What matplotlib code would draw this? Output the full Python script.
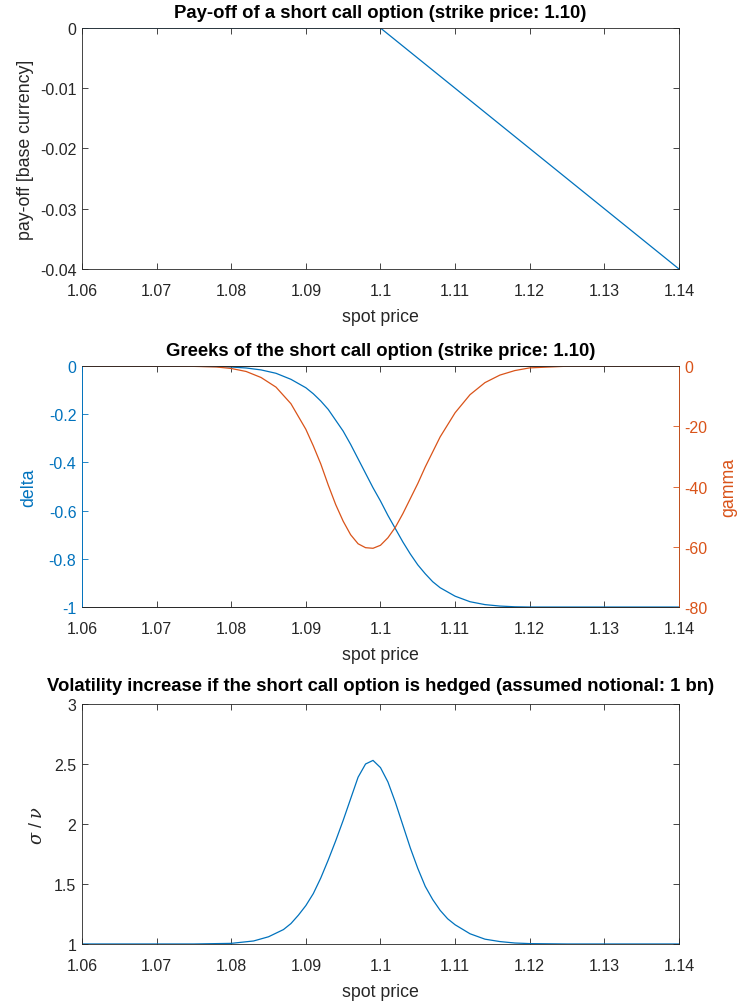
import matplotlib
matplotlib.use("Agg")
import matplotlib.pyplot as plt

plt.rcParams['font.family'] = ['Liberation Sans', 'DejaVu Sans']
plt.rcParams['mathtext.fontset'] = 'dejavuserif'

BLUE = "#0072BD"
ORANGE = "#D95319"
AXC = "#262626"

# ======================================
# Data
# ======================================

payoff_spot = [1.06, 1.10, 1.14]
payoff_val = [0.0, 0.0, -0.04]

greek_spot = [1.060, 1.070, 1.075, 1.078, 1.080, 1.082, 1.084, 1.086, 1.088,
              1.090, 1.091, 1.092, 1.093, 1.094, 1.095, 1.096, 1.097, 1.098,
              1.099, 1.100, 1.101, 1.102, 1.103, 1.104, 1.105, 1.106, 1.107,
              1.108, 1.110, 1.112, 1.114, 1.116, 1.118, 1.120, 1.125, 1.140]
delta = [0.0, 0.0, -0.001, -0.002, -0.004, -0.008, -0.016, -0.030, -0.055,
         -0.090, -0.115, -0.145, -0.180, -0.225, -0.270, -0.325, -0.385, -0.445,
         -0.505, -0.560, -0.620, -0.675, -0.730, -0.780, -0.825, -0.862, -0.895,
         -0.920, -0.955, -0.978, -0.990, -0.996, -0.999, -1.0, -1.0, -1.0]
gamma = [0.0, 0.0, -0.1, -0.3, -0.8, -1.8, -3.8, -7.0, -12.5,
         -21.0, -26.5, -32.5, -39.5, -46.0, -51.5, -56.0, -59.0, -60.3,
         -60.5, -59.5, -57.0, -53.5, -49.0, -44.0, -39.0, -33.5, -28.5,
         -23.5, -15.5, -9.5, -5.5, -3.0, -1.5, -0.6, -0.05, 0.0]

vol_spot = [1.060, 1.075, 1.080, 1.083, 1.085, 1.087, 1.088, 1.089, 1.090,
            1.091, 1.092, 1.093, 1.094, 1.095, 1.096, 1.097, 1.098, 1.099,
            1.100, 1.101, 1.102, 1.103, 1.104, 1.105, 1.106, 1.107, 1.108,
            1.109, 1.110, 1.112, 1.114, 1.116, 1.118, 1.120, 1.125, 1.140]
vol = [1.0, 1.0, 1.005, 1.025, 1.06, 1.12, 1.17, 1.24, 1.32,
       1.42, 1.55, 1.70, 1.86, 2.03, 2.21, 2.39, 2.50, 2.53,
       2.47, 2.35, 2.18, 1.99, 1.80, 1.63, 1.48, 1.37, 1.28,
       1.21, 1.16, 1.085, 1.04, 1.02, 1.008, 1.003, 1.0, 1.0]

xticks = [1.06, 1.07, 1.08, 1.09, 1.10, 1.11, 1.12, 1.13, 1.14]
xticklabels = ["1.06", "1.07", "1.08", "1.09", "1.1", "1.11", "1.12", "1.13", "1.14"]

TICK_FS = 11.5
LABEL_FS = 12.8
TITLE_FS = 13.3


def style_axes(ax):
    ax.set_xlim(1.06, 1.14)
    ax.set_xticks(xticks)
    ax.set_xticklabels(xticklabels)
    ax.tick_params(direction="in", length=4, width=0.6, labelsize=TICK_FS,
                   colors=AXC, top=True, right=True)
    ax.tick_params(axis="x", pad=10)
    ax.tick_params(axis="y", pad=4)
    for s in ax.spines.values():
        s.set_linewidth(0.6)
        s.set_color(AXC)
    ax.set_xlabel("spot price", fontsize=LABEL_FS, color=AXC, labelpad=7)


fig = plt.figure(figsize=(7.38, 10.04), dpi=100)

# ======================================
# Pay-off
# ======================================

ax1 = fig.add_axes([0.1111, 0.7311, 0.8089, 0.240])
ax1.plot(payoff_spot, payoff_val, color=BLUE, linewidth=0.9)
style_axes(ax1)
ax1.set_ylim(-0.04, 0)
ax1.set_yticks([-0.04, -0.03, -0.02, -0.01, 0])
ax1.set_yticklabels(["-0.04", "-0.03", "-0.02", "-0.01", "0"])
ax1.set_ylabel("pay-off [base currency]", fontsize=LABEL_FS, color=AXC, labelpad=4)
ax1.set_title("Pay-off of a short call option (strike price: 1.10)",
              fontsize=TITLE_FS, fontweight="bold", pad=8)

# ======================================
# Greeks
# ======================================

ax2 = fig.add_axes([0.1111, 0.3944, 0.8089, 0.240])
ax2.plot(greek_spot, delta, color=BLUE, linewidth=0.9)
style_axes(ax2)
ax2.tick_params(right=False)
ax2.set_ylim(-1, 0)
ax2.set_yticks([-1, -0.8, -0.6, -0.4, -0.2, 0])
ax2.set_yticklabels(["-1", "-0.8", "-0.6", "-0.4", "-0.2", "0"])
ax2.tick_params(axis="y", colors=BLUE)
ax2.spines["left"].set_color(BLUE)
ax2.set_ylabel("delta", fontsize=LABEL_FS, color=BLUE, labelpad=8)
ax2.set_title("Greeks of the short call option (strike price: 1.10)",
              fontsize=TITLE_FS, fontweight="bold", pad=8)

ax2r = ax2.twinx()
ax2r.plot(greek_spot, gamma, color=ORANGE, linewidth=0.9)
ax2r.set_ylim(-80, 0)
ax2r.set_yticks([-80, -60, -40, -20, 0])
ax2r.set_yticklabels(["-80", "-60", "-40", "-20", "0"])
ax2r.tick_params(direction="in", length=4, width=0.6, labelsize=TICK_FS,
                 colors=ORANGE, pad=4)
for s in ax2r.spines.values():
    s.set_linewidth(0.6)
    s.set_color(AXC)
ax2r.spines["right"].set_color(ORANGE)
ax2r.spines["left"].set_color(BLUE)
ax2r.set_ylabel("gamma", fontsize=LABEL_FS, color=ORANGE, labelpad=9)

# ======================================
# Volatility increase
# ======================================

ax3 = fig.add_axes([0.1111, 0.0588, 0.8089, 0.239])
ax3.plot(vol_spot, vol, color=BLUE, linewidth=0.9)
style_axes(ax3)
ax3.set_ylim(1, 3)
ax3.set_yticks([1, 1.5, 2, 2.5, 3])
ax3.set_yticklabels(["1", "1.5", "2", "2.5", "3"])
ax3.set_ylabel(r"$\sigma$ / $\nu$", fontsize=LABEL_FS, color=AXC, labelpad=6)
ax3.set_title("Volatility increase if the short call option is hedged (assumed notional: 1 bn)",
              fontsize=TITLE_FS, fontweight="bold", pad=10)

fig.savefig("out.png", dpi=100)
plt.close(fig)
